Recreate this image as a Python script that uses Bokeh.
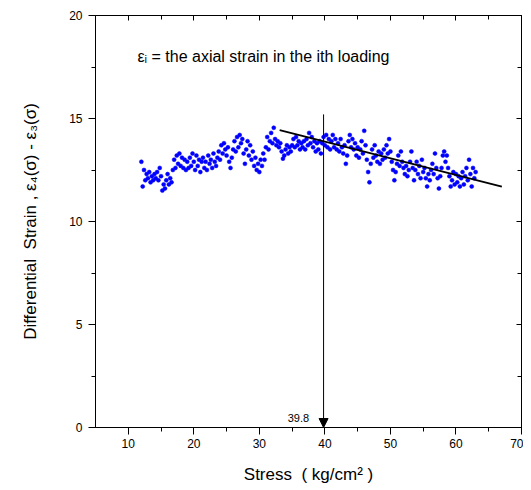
from bokeh.plotting import figure
from bokeh.models import (LinearAxis, FixedTicker, Label, Arrow, NormalHead,
                          ColumnDataSource, CustomJSTickFormatter)
from bokeh.embed import file_html
from bokeh.resources import INLINE

# ---------------- data ----------------
x_start = 12.0
x_step = 0.2
strain_diff = [
    12.9, 11.7, 12.5, 12.0, 12.3, 12.1, 12.4, 11.9, 12.2, 12.0,
    12.3, 12.1, 12.4, 12.0, 12.6, 12.2, 11.5, 11.8, 11.6, 12.0,
    12.3, 11.8, 12.1, 11.9, 12.5, 13.0, 12.6, 13.2, 12.8, 13.3,
    12.7, 13.1, 12.6, 13.0, 12.5, 12.9, 12.6, 13.1, 12.7, 13.3,
    12.9, 12.5, 13.2, 12.7, 13.0, 12.4, 12.9, 13.1, 12.6, 12.9,
    12.5, 13.2, 12.8, 13.0, 12.6, 13.3, 12.9, 12.7, 13.1, 13.4,
    13.0, 13.7, 13.3, 13.8, 13.5, 13.2, 13.6, 12.9, 12.6, 13.1,
    13.5, 13.9, 13.4, 14.1, 13.6, 14.2, 13.8, 14.0, 13.3, 12.8,
    13.5, 13.9, 13.2, 13.7, 13.0, 13.4, 12.7, 13.1, 12.5, 12.8,
    12.4, 13.0, 12.7, 13.3, 13.0, 13.6, 14.1, 13.5, 13.9, 14.3,
    13.8, 14.55, 14.0, 13.7, 13.9, 13.6, 13.8, 13.4, 13.05, 13.2,
    13.5, 13.7, 13.3, 13.6, 13.4, 13.7, 14.0, 13.6, 14.1, 13.7,
    13.9, 13.5, 13.8, 13.6, 13.9, 13.5, 14.0, 13.7, 14.3, 13.8,
    14.1, 13.6, 13.9, 13.4, 13.8, 13.5, 13.9, 13.3, 13.8, 14.1,
    13.7, 14.2, 13.6, 14.0, 13.5, 13.9, 14.2, 13.6, 14.0, 13.5,
    13.8, 13.4, 14.0, 13.6, 13.3, 13.7, 12.8, 13.2, 13.9, 14.2,
    13.6, 14.0, 13.5, 13.8, 13.2, 13.6, 13.1, 13.5, 13.9, 13.3,
    14.4, 13.7, 13.0, 12.4, 11.9, 12.8, 13.5, 13.1, 13.7, 13.2,
    12.9, 13.4, 12.8, 13.3, 13.0, 13.5, 13.1, 13.7, 13.3, 14.0,
    13.4, 12.9, 12.5, 12.0, 12.4, 12.8, 13.2, 12.7, 13.4, 12.9,
    12.6, 12.3, 12.7, 12.2, 12.5, 12.9, 13.4, 12.6, 12.0, 12.5,
    12.9, 12.3, 12.7, 12.1, 13.0, 12.4, 12.6, 12.1, 11.7, 12.3,
    12.0, 12.5, 12.8, 12.3, 13.3, 12.6, 12.1, 11.6, 12.2, 12.6,
    13.2, 13.4, 12.9, 13.2, 12.6, 12.2, 11.7, 12.0, 12.4, 11.8,
    12.3, 11.9, 12.2, 11.7, 12.1, 12.4, 11.8, 12.2, 12.6, 12.0,
    13.0, 12.3, 11.7, 12.6, 12.1, 12.4,
]
stress = [round(x_start + x_step * i, 1) for i in range(len(strain_diff))]

fit_x = [33.1, 67.0]
fit_y = [14.44, 11.69]

peak_stress = 39.8
peak_line_top = 15.2

x_major = [10, 20, 30, 40, 50, 60, 70]
x_minor = [15, 25, 35, 45, 55, 65]
y_major = [0, 5, 10, 15, 20]
y_minor = [2.5, 7.5, 12.5, 17.5]

FONT = "Liberation Sans"
NB = "\u00a0"

# ---------------- figure ----------------
p = figure(frame_width=426, frame_height=412,
           min_border_left=95, min_border_top=15,
           min_border_right=2, min_border_bottom=58,
           x_range=(5, 70), y_range=(0, 20),
           output_backend="svg", toolbar_location=None)
p.background_fill_color = "white"
p.border_fill_color = "white"
p.grid.visible = False
p.outline_line_color = "black"
p.outline_line_width = 1

xt = FixedTicker(ticks=x_major, minor_ticks=x_minor)
yt = FixedTicker(ticks=y_major, minor_ticks=y_minor)

for ax, tk in ((p.xaxis[0], xt), (p.yaxis[0], yt)):
    ax.ticker = tk
    ax.axis_line_color = "black"
    ax.major_tick_line_color = "black"
    ax.minor_tick_line_color = "black"
    ax.major_tick_out = 7
    ax.major_tick_in = 0
    ax.minor_tick_out = 4
    ax.minor_tick_in = 0
    ax.major_label_text_font = FONT
    ax.major_label_text_font_size = "12px"
    ax.major_label_text_color = "black"
    ax.axis_label_text_font = FONT
    ax.axis_label_text_font_size = "17px"
    ax.axis_label_text_font_style = "normal"
    ax.axis_label_text_color = "black"

p.xaxis[0].major_label_standoff = 4
p.yaxis[0].major_label_standoff = 6
p.xaxis[0].axis_label = "Stress" + NB + NB + "( kg/cm\u00b2 )"
p.xaxis[0].axis_label_standoff = 14
p.yaxis[0].axis_label = ("Differential" + NB + NB + "Strain , "
                         "\u03b5\u2084(\u03c3) - \u03b5\u2083(\u03c3)")
p.yaxis[0].axis_label_standoff = 26

blank = CustomJSTickFormatter(code="return ''")
for loc, tk in (("above", xt), ("right", yt)):
    ax = LinearAxis(ticker=tk, formatter=blank)
    ax.axis_line_color = "black"
    ax.major_tick_line_color = "black"
    ax.minor_tick_line_color = "black"
    ax.major_tick_in = 5
    ax.major_tick_out = 0
    ax.minor_tick_in = 4
    ax.minor_tick_out = 0
    ax.major_label_standoff = 0
    p.add_layout(ax, loc)

# ---------------- glyphs ----------------
src = ColumnDataSource(dict(x=stress, y=strain_diff))
p.scatter("x", "y", source=src, size=4, fill_color="#0000ff",
          line_color="#0000ff", line_width=0.5)

p.line(fit_x, fit_y, line_color="black", line_width=1.8)

p.add_layout(Arrow(end=NormalHead(size=9, fill_color="black", line_color="black"),
                   x_start=peak_stress, y_start=peak_line_top,
                   x_end=peak_stress, y_end=0,
                   line_color="black", line_width=1))

p.add_layout(Label(x=35.96, y=0.48, text=str(peak_stress), text_align="center",
                   text_baseline="alphabetic", text_font=FONT,
                   text_font_size="11px", text_color="black"))

p.add_layout(Label(x=11.4, y=18.0,
                   text="\u03b5\u1d62 = the axial strain in the ith loading",
                   text_align="left", text_baseline="alphabetic",
                   text_font=FONT, text_font_size="16px", text_color="black"))

open("out.html", "w").write(file_html(p, INLINE))
